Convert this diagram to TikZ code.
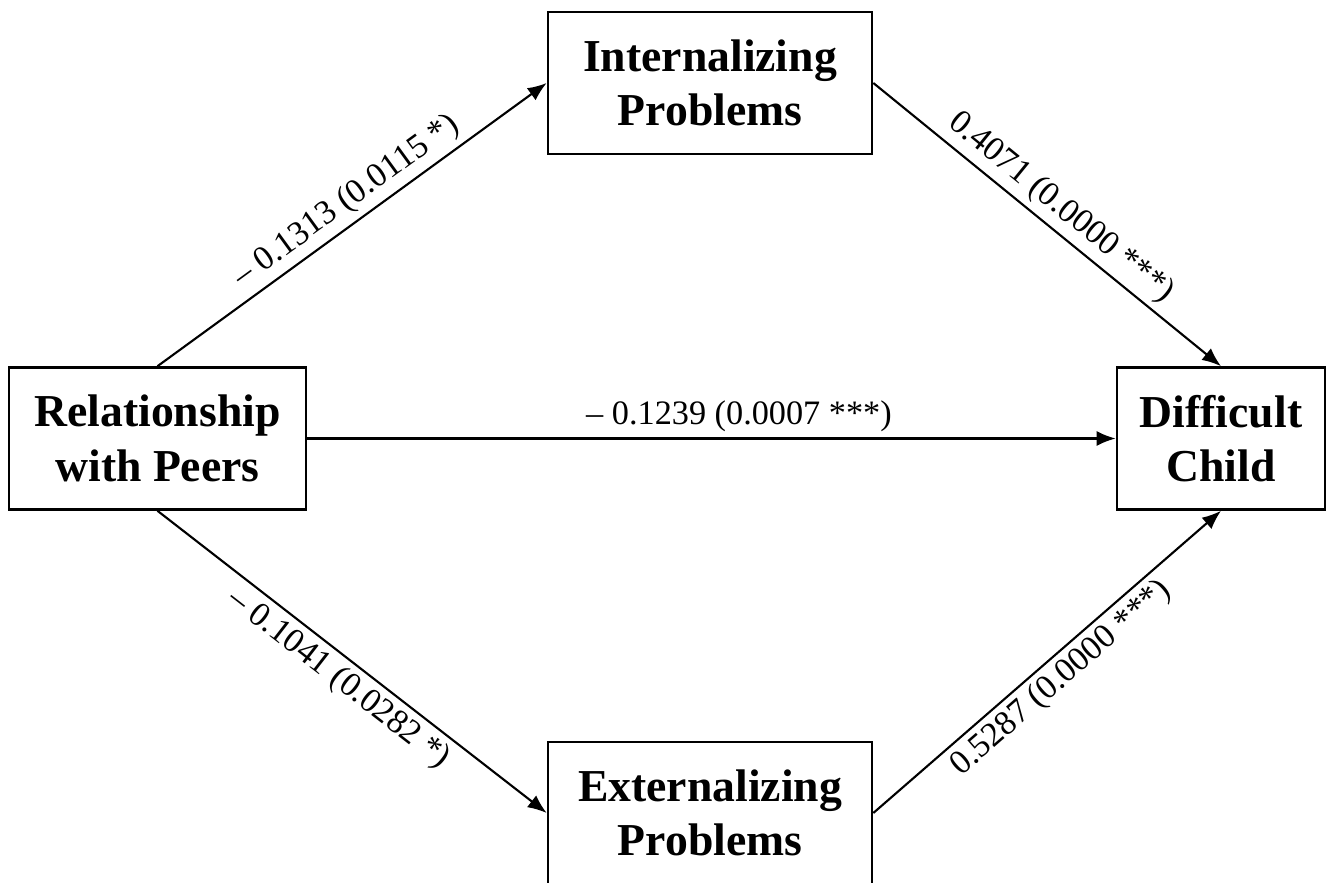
\documentclass[tikz,border=0pt]{standalone}
\usepackage{fontspec}
\setmainfont{Liberation Serif}
\usepackage{tikz}
\usetikzlibrary{arrows.meta, positioning}

\tikzset{
  varbox/.style={draw, line width=1.5pt, minimum height=2.84cm, align=center,
                 inner sep=4pt, font=\bfseries\fontsize{26}{31}\selectfont},
  path/.style={line width=1.2pt, -{Latex[length=3.8mm, width=3mm]}},
  coef/.style={sloped, inner sep=3pt, font=\fontsize{19.5}{22}\selectfont}
}

\begin{document}
\begin{tikzpicture}
    \useasboundingbox (0,0) rectangle (26.54,17.64);

    % variables
    \node[varbox, minimum width=5.94cm] (rel) at (3.15,8.87)
      {Relationship\\with Peers};
    \node[varbox, minimum width=6.48cm] (int) at (14.2,15.98)
      {Internalizing\\Problems};
    \node[varbox, minimum width=6.48cm] (ext) at (14.2,1.38)
      {Externalizing\\Problems};
    \node[varbox, minimum width=4.16cm] (diff) at (24.42,8.87)
      {Difficult\\Child};

    % paths
    \draw[path] (rel.north) -- node[coef, above, pos=0.52] {– 0.1313 (0.0115 *)} (int.west);
    \draw[path] (int.east) -- node[coef, above] {0.4071 (0.0000 ***)} (diff.north);
    \draw[path] (rel.east) -- node[coef, above, pos=0.534] {– 0.1239 (0.0007 ***)} (diff.west);
    \draw[path] (rel.south) -- node[coef, below] {– 0.1041 (0.0282 *)} (ext.west);
    \draw[path] (ext.east) -- node[coef, below] {0.5287 (0.0000 ***)} (diff.south);
\end{tikzpicture}
\end{document}
